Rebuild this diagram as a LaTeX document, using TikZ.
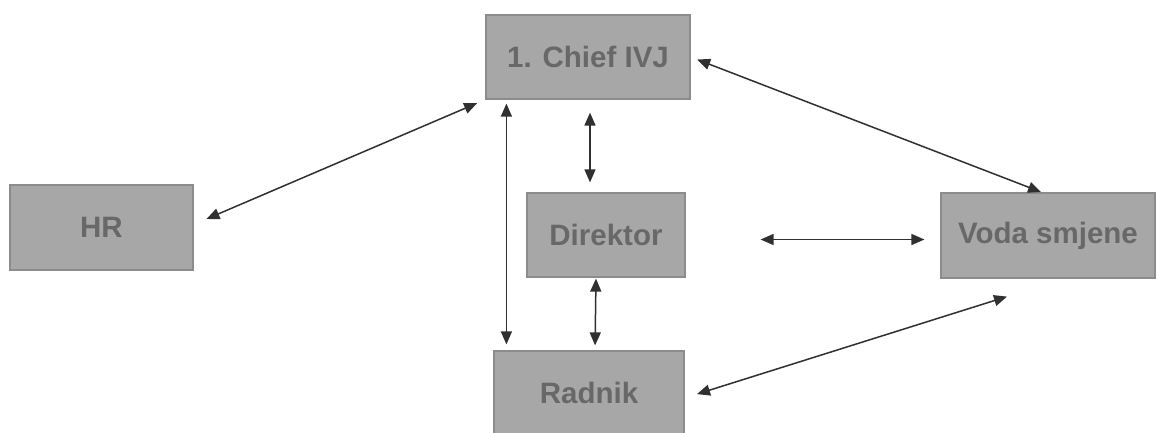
\documentclass[tikz,border=0pt]{standalone}
\usepackage{fontspec}
\setmainfont{Liberation Sans}
\usetikzlibrary{arrows.meta}
\definecolor{boxfill}{HTML}{A7A7A7}
\definecolor{boxline}{HTML}{8C8C8C}
\definecolor{boxtext}{HTML}{686868}
\definecolor{arr}{HTML}{303030}
\tikzset{
  box/.style={draw=boxline, line width=1.2pt, fill=boxfill, text=boxtext, inner sep=0pt,
    font=\fontsize{29.5}{31}\selectfont\bfseries},
  link/.style={draw=arr, line width=1.5pt, {Triangle[length=13pt,width=11pt]}-{Triangle[length=13pt,width=11pt]}}
}
\begin{document}
\begin{tikzpicture}[x=1pt,y=-1pt]
\useasboundingbox (0,0) rectangle (1157,432);
\node[box, minimum width=204pt, minimum height=84pt] (chief) at (588,57) {1. Chief IVJ};
\node[box, minimum width=183pt, minimum height=85pt] (hr) at (101.5,227.5) {HR};
\node[box, minimum width=158pt, minimum height=84pt] (dir) at (606,235) {Direktor};
\node[box, minimum width=214pt, minimum height=85pt] (voda) at (1048,235.5) {Voda smjene};
\node[box, minimum width=190pt, minimum height=84pt] (rad) at (589,393) {Radnik};
% connectors
\draw[link, shorten <=14pt, shorten >=9pt] ([yshift=3pt]hr.east) -- (chief.south west);
\draw[link, shorten <=4pt, shorten >=6pt] ([xshift=21pt]chief.south west) -- ([xshift=13pt]rad.north west);
\draw[link, shorten <=13pt, shorten >=10pt] ([xshift=2pt]chief.south) -- ([xshift=-16pt]dir.north);
\draw[link, shorten <=1pt, shorten >=5pt] ([xshift=-10pt]dir.south) -- ([xshift=6pt]rad.north);
\draw[link, shorten <=75pt, shorten >=16pt] ([yshift=-4.5pt]dir.east) -- ([yshift=-4pt]voda.west);
\draw[link, shorten <=7pt, shorten >=1pt] (chief.east) -- ([xshift=-6pt]voda.north);
\draw[link, shorten <=13pt] ([yshift=-5pt]rad.east) -- ([xshift=-41pt,yshift=-18pt]voda.south);
\end{tikzpicture}
\end{document}
